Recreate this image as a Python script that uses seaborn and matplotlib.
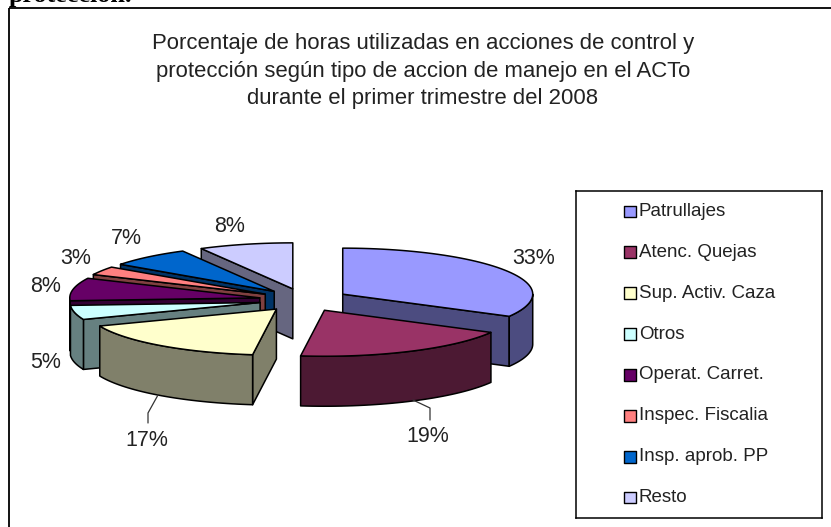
import numpy as np
import pandas as pd
import matplotlib
matplotlib.use('Agg')
import matplotlib.pyplot as plt
from matplotlib.patches import Rectangle
import seaborn as sns

# data
acciones = ['Patrullajes', 'Atenc. Quejas', 'Sup. Activ. Caza', 'Otros',
            'Operat. Carret.', 'Inspec. Fiscalia', 'Insp. aprob. PP', 'Resto']
porcentajes = [33, 19, 17, 5, 8, 3, 7, 8]
colores = ['#9999FF', '#993366', '#FFFFCC', '#CCFFFF',
           '#660066', '#FF8080', '#0066CC', '#CCCCFF']
oscuros = ['#4C4C80', '#4C1933', '#80806A', '#668080',
           '#330033', '#804040', '#003366', '#666680']
titulo = ('Porcentaje de horas utilizadas en acciones de control y\n'
          'protección según tipo de accion de manejo en el ACTo\n'
          'durante el primer trimestre del 2008')

sns.set_theme(style='white')
plt.rcParams['font.family'] = ['Liberation Sans', 'DejaVu Sans']

#pie geometry in pixels
cx, cy = 304, 300
a, b = 190, 46
exp_a, exp_b = 45, 11.5
alto = 50
W, H = 831, 527

fig = plt.figure(figsize=(W / 100, H / 100), dpi=100, facecolor='white')
ax = fig.add_axes([0, 0, 1, 1])
ax.set_xlim(0, W)
ax.set_ylim(H, 0)
ax.axis('off')

ax.add_patch(Rectangle((8.5, 7.5), 830, 530, fill=False, ec='black', lw=1.3))
ax.text(9, 2, 'protección.', family='Liberation Serif', weight='bold',
        fontsize=18.8, color='black', va='baseline', ha='left')
ax.text(423, 71, titulo, ha='center', va='center', fontsize=15.9,
        color='#222222', linespacing=1.4)

def punto(ox, oy, t):
    return ox + a * np.sin(t), oy - b * np.cos(t)

def cara(xs, ys, color, z):
    ax.fill(xs, ys, facecolor=color, edgecolor='black', lw=1.1, zorder=z, joinstyle='round')

#start/end angle of every slice, from the values
total = sum(porcentajes)
fin = np.cumsum(porcentajes) / total * 2 * np.pi
inicio = np.concatenate([[0], fin[:-1]])

#painter order, back to front
orden = [7, 6, 5, 4, 3, 0, 2, 1]
for z, i in enumerate(orden):
    t0, t1 = inicio[i], fin[i]
    tm = (t0 + t1) / 2
    ox = cx + exp_a * np.sin(tm)
    oy = cy - exp_b * np.cos(tm)
    zz = 10 + z * 4

    if np.sin(t0) < 0:
        x, y = punto(ox, oy, t0)
        cara([ox, x, x, ox], [oy, y, y + alto, oy + alto], oscuros[i], zz)
    if np.sin(t1) > 0:
        x, y = punto(ox, oy, t1)
        cara([ox, x, x, ox], [oy, y, y + alto, oy + alto], oscuros[i], zz)

    #outer wall, only the front half of the ellipse
    lo, hi = max(t0, np.pi / 2), min(t1, 3 * np.pi / 2)
    if hi > lo:
        arco = np.linspace(lo, hi, 40)
        x, y = punto(ox, oy, arco)
        cara(np.r_[x, x[::-1]], np.r_[y, y[::-1] + alto], oscuros[i], zz + 1)

    arco = np.linspace(t0, t1, 60)
    x, y = punto(ox, oy, arco)
    cara(np.r_[ox, x], np.r_[oy, y], colores[i], zz + 2)

#percent labels
pos_etiq = [(534, 258), (428, 436), (147, 441), (46, 362),
            (46, 286), (76, 258), (126, 238), (230, 226)]
for v, (x, y) in zip(porcentajes, pos_etiq):
    ax.text(x, y, f'{v}%', ha='center', va='center', fontsize=15.5, color='#222222', zorder=60)

#leader lines
ax.plot([158, 148, 148], [395, 413, 423], color='#333333', lw=0.9, zorder=60)
ax.plot([413, 430, 430], [400, 408, 420], color='#333333', lw=0.9, zorder=60)

#legend as its own axes, seaborn spaces the categories
leg = fig.add_axes([576 / W, 1 - 518 / H, 246 / W, 327 / H], facecolor='white')
tabla = pd.DataFrame({'accion': acciones, 'x': [0] * len(acciones)})
sns.scatterplot(data=tabla, x='x', y='accion', hue='accion', palette=colores, marker='s',
                s=72, edgecolor='black', linewidth=1, legend=False, ax=leg, zorder=3)
leg.set_xlim(-54, 192)
leg.set_ylim(7.5, -0.5)
leg.set_xticks([])
leg.set_yticks([])
leg.set_xlabel('')
leg.set_ylabel('')
for s in leg.spines.values():
    s.set_color('black')
    s.set_linewidth(1.1)
for k, nombre in enumerate(acciones):
    leg.text(9, k, nombre, va='center', ha='left', fontsize=13.5, color='#222222')

fig.savefig('out.png', dpi=100, facecolor='white')
